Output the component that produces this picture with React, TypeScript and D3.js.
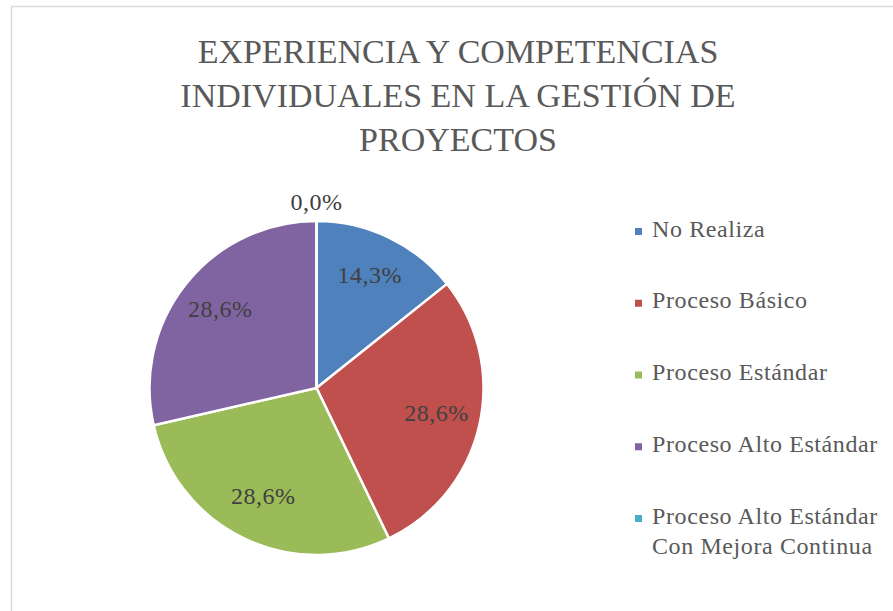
import { useEffect, useRef } from 'react'
import * as d3 from 'd3'

const categories = [
  'No Realiza',
  'Proceso Básico',
  'Proceso Estándar',
  'Proceso Alto Estándar',
  'Proceso Alto Estándar Con Mejora Continua',
]
const values = [14.3, 28.6, 28.6, 28.6, 0.0]
const colors = ['#4F81BD', '#C0504D', '#9BBB59', '#8064A2', '#4BACC6']
const titleLines = ['EXPERIENCIA Y COMPETENCIAS', 'INDIVIDUALES EN LA GESTIÓN DE', 'PROYECTOS']
const legendLines = [
  ['No Realiza'],
  ['Proceso Básico'],
  ['Proceso Estándar'],
  ['Proceso Alto Estándar'],
  ['Proceso Alto Estándar', 'Con Mejora Continua'],
]

const W = 893
const H = 611
const FONT = '"Liberation Serif", "DejaVu Serif", serif'

export default function App() {
  const svgRef = useRef<SVGSVGElement>(null)

  useEffect(() => {
    if (!svgRef.current) return
    const svg = d3.select(svgRef.current)
    svg.selectAll('*').remove()

    // marco del gráfico
    svg.append('rect')
      .attr('x', 11.5)
      .attr('y', 6.5)
      .attr('width', W + 20)
      .attr('height', H + 20)
      .attr('fill', '#fff')
      .attr('stroke', '#d9d9d9')
      .attr('stroke-width', 1.5)

    // título
    titleLines.forEach((line, i) => {
      svg.append('text')
        .attr('x', 458)
        .attr('y', 63 + i * 44)
        .attr('text-anchor', 'middle')
        .attr('fill', '#595959')
        .attr('font-family', FONT)
        .attr('font-size', '34px')
        .text(line)
    })

    const cx = 316.5
    const cy = 388
    const radius = 167

    const pie = d3.pie<number>().sort(null).value(d => d)
    const arcs = pie(values)
    const arc = d3.arc<d3.PieArcDatum<number>>().innerRadius(0).outerRadius(radius)
    const labelArc = d3.arc<d3.PieArcDatum<number>>().innerRadius(123).outerRadius(123)

    const g = svg.append('g').attr('transform', `translate(${cx}, ${cy})`)

    g.selectAll('path')
      .data(arcs)
      .enter()
      .append('path')
      .attr('d', arc)
      .attr('fill', (_, i) => colors[i])
      .attr('stroke', '#fff')
      .attr('stroke-width', 2.5)
      .attr('stroke-linejoin', 'round')

    // etiquetas de datos
    arcs.forEach(a => {
      let [x, y] = labelArc.centroid(a)
      if (a.data === 0) {
        // sin espacio: la etiqueta va fuera del sector
        const ang = a.startAngle
        x = Math.sin(ang) * (radius + 17)
        y = -Math.cos(ang) * (radius + 17)
      }
      g.append('text')
        .attr('x', x)
        .attr('y', y)
        .attr('text-anchor', 'middle')
        .attr('dominant-baseline', 'middle')
        .attr('fill', '#404040')
        .attr('font-family', FONT)
        .attr('font-size', '24px')
        .attr('letter-spacing', '0.5px')
        .text(d3.format('.1f')(a.data).replace('.', ',') + '%')
    })

    // leyenda
    const legendY = d3.scalePoint<string>().domain(categories).range([231, 518])
    categories.forEach((c, i) => {
      const y = legendY(c) as number
      svg.append('rect')
        .attr('x', 635)
        .attr('y', y - 3)
        .attr('width', 7)
        .attr('height', 7)
        .attr('fill', colors[i])
      legendLines[i].forEach((t, j) => {
        svg.append('text')
          .attr('x', 652)
          .attr('y', y + j * 30)
          .attr('dominant-baseline', 'middle')
          .attr('fill', '#595959')
          .attr('font-family', FONT)
          .attr('font-size', '24px')
          .attr('letter-spacing', '0.6px')
          .text(t)
      })
    })
  }, [])

  return (
    <svg
      ref={svgRef}
      width={W}
      height={H}
      style={{ position: 'absolute', left: 0, top: 0, display: 'block' }}
    />
  )
}
